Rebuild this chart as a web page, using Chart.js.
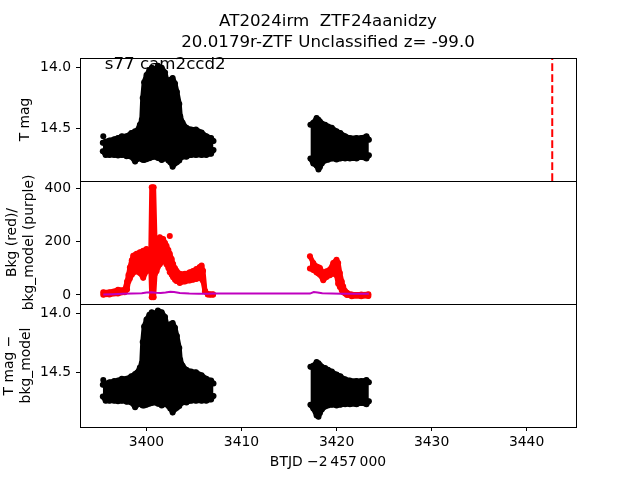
<!DOCTYPE html>
<html>
<head>
<meta charset="utf-8">
<script src="https://cdn.jsdelivr.net/npm/chart.js@4.4.1/dist/chart.umd.min.js"></script>
<style>
  html, body { margin: 0; padding: 0; background: #fff; }
  #wrap { position: relative; width: 640px; height: 480px; }
  canvas { position: absolute; left: 0; }
</style>
</head>
<body>
<div id="wrap">
  <canvas id="rawPanel" width="640" height="181" style="top:0"></canvas>
  <canvas id="subPanel" width="640" height="176" style="top:304px"></canvas>
  <canvas id="bkgPanel" width="640" height="143" style="top:171px"></canvas>
</div>
<script>
// ---- data ----
// light curve, first orbit (BTJD - 2457000) and upper / lower edge of the point cloud
const lcTime1 = [3395.4, 3395.7, 3396.1, 3396.6, 3397.0, 3397.4, 3397.9, 3398.4, 3398.8, 3399.0,
  3399.3, 3399.5, 3399.6, 3399.75, 3400.0, 3400.3, 3400.55, 3400.9, 3401.2, 3401.6,
  3401.95, 3402.15, 3402.3, 3402.5, 3402.75, 3403.0, 3403.2, 3403.45, 3403.55, 3403.8,
  3404.2, 3404.7, 3405.2, 3405.8, 3406.3, 3406.8, 3407.05];
const rawTop1 = [14.62, 14.61, 14.60, 14.59, 14.58, 14.565, 14.565, 14.54, 14.525, 14.52,
  14.47, 14.43, 14.25, 14.12, 14.06, 14.02, 14.0, 14.01, 13.985, 14.0,
  14.04, 14.11, 14.39, 14.10, 14.085, 14.13, 14.20, 14.30, 14.40, 14.455,
  14.495, 14.51, 14.51, 14.535, 14.565, 14.58, 14.605];
const rawBot1 = [14.69, 14.72, 14.72, 14.72, 14.725, 14.72, 14.73, 14.735, 14.775, 14.755,
  14.748, 14.755, 14.76, 14.762, 14.755, 14.748, 14.74, 14.735, 14.745, 14.762,
  14.75, 14.748, 14.765, 14.78, 14.817, 14.79, 14.78, 14.765, 14.745, 14.734,
  14.734, 14.72, 14.72, 14.72, 14.72, 14.71, 14.68];
const subTop1 = [14.60, 14.59, 14.58, 14.57, 14.565, 14.55, 14.55, 14.53, 14.51, 14.50,
  14.455, 14.42, 14.24, 14.11, 14.05, 14.01, 13.99, 14.0, 13.975, 13.99,
  14.03, 14.10, 14.38, 14.09, 14.08, 14.12, 14.19, 14.29, 14.39, 14.44,
  14.475, 14.49, 14.495, 14.52, 14.55, 14.565, 14.59];
const subBot1 = [14.70, 14.735, 14.735, 14.735, 14.74, 14.735, 14.745, 14.75, 14.79, 14.77,
  14.76, 14.77, 14.775, 14.775, 14.77, 14.76, 14.755, 14.75, 14.76, 14.775,
  14.765, 14.765, 14.78, 14.80, 14.835, 14.805, 14.795, 14.78, 14.76, 14.75,
  14.75, 14.735, 14.735, 14.735, 14.735, 14.725, 14.695];

// light curve, second orbit
const lcTime2 = [3417.25, 3417.55, 3417.9, 3418.1, 3418.25, 3418.45, 3418.8, 3419.1, 3419.5,
  3420.0, 3420.4, 3420.9, 3421.4, 3422.1, 3422.6, 3423.15, 3423.4];
const rawTop2 = [14.47, 14.455, 14.415, 14.43, 14.445, 14.46, 14.47, 14.485, 14.495,
  14.525, 14.54, 14.565, 14.58, 14.58, 14.58, 14.566, 14.594];
const rawBot2 = [14.75, 14.79, 14.81, 14.84, 14.82, 14.79, 14.765, 14.76, 14.75,
  14.758, 14.75, 14.75, 14.75, 14.75, 14.737, 14.75, 14.723];
const subTop2 = [14.45, 14.44, 14.41, 14.42, 14.435, 14.45, 14.46, 14.475, 14.49,
  14.515, 14.53, 14.555, 14.565, 14.57, 14.57, 14.56, 14.58];
const subBot2 = [14.77, 14.80, 14.86, 14.87, 14.84, 14.81, 14.785, 14.775, 14.77,
  14.775, 14.77, 14.765, 14.765, 14.765, 14.755, 14.765, 14.74];

// single stray points
const rawOutTime = [3395.45];
const rawOut = [14.565];
const subOutTime = [3395.45];
const subOut = [14.56];

// background flux (red), edges of the cloud
const bkgTime1 = [3395.45, 3396.1, 3397.0, 3397.7, 3397.95, 3398.1, 3398.25, 3398.45, 3398.6, 3398.8,
  3398.95, 3399.3, 3399.65, 3400.0, 3400.3, 3400.45, 3400.55, 3400.75, 3400.9, 3401.05,
  3401.4, 3401.75, 3401.95, 3402.1, 3402.3, 3402.45, 3402.65, 3402.8, 3403.0, 3403.15,
  3403.5, 3404.05, 3404.55, 3404.9, 3405.25, 3405.6, 3405.8, 3405.95, 3406.15, 3406.45,
  3406.7, 3407.0];
const bkgHigh1 = [10, 10, 19, 19, 50, 75, 103, 130, 147, 150,
  154, 160, 166, 172, 166, 168, 404, 404, 195, 202,
  216, 210, 195, 184, 168, 154, 135, 116, 100, 91,
  79, 79, 85, 90, 97, 105, 110, 91, 16, 3,
  3, 3];
const bkgLow1 = [1, 2, 5, 10, 20, 51, 62, 76, 83, 89,
  88, 82, 64, 89, 101, 100, -9, -9, 80, 89,
  115, 126, 126, 115, 101, 85, 76, 66, 57, 52,
  45, 50, 54, 57, 60, 64, 60, 52, 14, 2,
  1, 1];
const bkgTime2 = [3417.2, 3417.55, 3417.9, 3418.1, 3418.25, 3418.6, 3418.95, 3419.3, 3419.65, 3420.0,
  3420.17, 3420.35, 3420.55, 3420.7, 3420.9, 3421.1, 3421.6, 3422.6, 3423.35];
const bkgHigh2 = [145, 120, 107, 104, 101, 82, 89, 95, 120, 132,
  120, 82, 50, 32, 15, 8, 2, 2, 3];
const bkgLow2 = [99, 93, 84, 80, 76, 55, 67, 74, 80, 74,
  42, 30, 17, 10, 5, 0, -5, -5, -4];
const bkgOutTime = [3402.45];
const bkgOut = [221];

// background model (purple)
const modelTime = [3395.45, 3396.5, 3397.5, 3398.5, 3399.5, 3400.0, 3400.5, 3401.0, 3401.5, 3402.0,
  3402.5, 3402.9, 3403.5, 3404.5, 3405.5, 3406.5, 3407.05, 3417.2, 3417.6, 3418.0,
  3418.5, 3419.5, 3420.5, 3421.5, 3422.5, 3423.4];
const modelBkg = [2, 3, 4, 5, 6, 9, 10, 8, 7, 9,
  12, 11, 7, 5, 4, 4, 5, 5, 11, 9,
  6, 5, 4, 4, 4, 4];

// vertical marker
const markerTime = 3442.7;

// axes
const timeMin = 3393.0, timeMax = 3445.2;
const magMin = 13.92, magMax = 14.935;
const bkgMin = -34, bkgMax = 427;
const subMin = 13.92, subMax = 14.957;
const timeTicks = [3400, 3410, 3420, 3430, 3440];
const magTicks = [14.0, 14.5];
const bkgTicks = [0, 200, 400];

// ---- drawing ----
Chart.defaults.font.family = '"DejaVu Sans", sans-serif';
Chart.defaults.font.size = 13.9;
Chart.defaults.color = '#000';

const pts = (xs, ys) => xs.map((x, i) => ({ x: x, y: ys[i] }));

// upper and lower edge of a dense point cloud, filled in between
function cloud(times, hi, lo, color) {
  const style = {
    showLine: true, borderColor: color, backgroundColor: color, pointBackgroundColor: color,
    borderWidth: 5, pointRadius: 3, pointBorderWidth: 0, pointHoverRadius: 0,
    borderJoinStyle: 'round', borderCapStyle: 'round', tension: 0
  };
  return [
    Object.assign({ data: pts(times, hi), fill: false }, style),
    Object.assign({ data: pts(times, lo), fill: '-1' }, style)
  ];
}

function dots(times, vals, color) {
  return { data: pts(times, vals), pointRadius: 3, pointBorderWidth: 0,
    pointBackgroundColor: color, backgroundColor: color };
}

function xScale(show) {
  const s = {
    type: 'linear', min: timeMin, max: timeMax, display: show,
    afterBuildTicks: sc => { sc.ticks = timeTicks.map(v => ({ value: v })); },
    grid: { drawOnChartArea: false, tickLength: 4, color: '#000' },
    border: { display: false },
    ticks: { padding: 3, maxRotation: 0, callback: v => String(v) },
    title: { display: show, text: 'BTJD \u22122\u2009457\u2009000', padding: { top: 0, bottom: 9 } }
  };
  if (show) {
    s.afterFit = sc => { sc.height = 53; sc.paddingLeft = 0; sc.paddingRight = 0; };
  }
  return s;
}

function yScale(min, max, ticks, fmt, reverse, title, titlePad) {
  return {
    type: 'linear', min: min, max: max, reverse: reverse,
    afterBuildTicks: sc => { sc.ticks = ticks.map(v => ({ value: v })); },
    afterFit: sc => { sc.width = 80; sc.paddingTop = 0; sc.paddingBottom = 0; },
    grid: { drawOnChartArea: false, tickLength: 4, color: '#000' },
    border: { display: false },
    ticks: { padding: 5, callback: fmt },
    title: { display: true, text: title, padding: { top: titlePad, bottom: 0 } }
  };
}

const frame = {
  id: 'frame',
  afterDraw(chart) {
    const { ctx, chartArea: a } = chart;
    ctx.save();
    ctx.strokeStyle = '#000';
    ctx.lineWidth = 1;
    ctx.strokeRect(Math.round(a.left) + 0.5, Math.round(a.top) + 0.5,
      Math.round(a.right - a.left), Math.round(a.bottom - a.top));
    ctx.restore();
  }
};

const cornerLabel = {
  id: 'cornerLabel',
  afterDatasetsDraw(chart) {
    const { ctx, chartArea: a } = chart;
    ctx.save();
    ctx.font = '16.67px "DejaVu Sans"';
    ctx.fillStyle = '#000';
    ctx.textBaseline = 'middle';
    ctx.fillText('s77 cam2ccd2', a.left + 0.05 * (a.right - a.left), a.top + 0.05 * (a.bottom - a.top) + 0.4);
    ctx.restore();
  }
};

function baseOptions(scales, pad, extraPlugins) {
  return {
    responsive: false, animation: false, devicePixelRatio: 1,
    layout: { autoPadding: false, padding: { left: 0, right: 64, top: pad, bottom: pad } },
    scales: scales,
    plugins: Object.assign({ legend: { display: false }, tooltip: { enabled: false } }, extraPlugins || {}),
    events: []
  };
}

const fmtMag = v => Number(v).toFixed(1);
const fmtInt = v => String(v);

// top: T mag
new Chart(document.getElementById('rawPanel'), {
  type: 'scatter',
  data: {
    datasets: [
      ...cloud(lcTime1, rawTop1, rawBot1, '#000'),
      ...cloud(lcTime2, rawTop2, rawBot2, '#000'),
      dots(rawOutTime, rawOut, '#000'),
      { data: [{ x: markerTime, y: magMax }, { x: markerTime, y: magMin }], showLine: true,
        borderColor: '#ff0000', borderWidth: 2, borderDash: [7.7, 3.3], pointRadius: 0 }
    ]
  },
  options: baseOptions({
    x: xScale(false),
    y: yScale(magMin, magMax, magTicks, fmtMag, true, 'T mag', 17)
  }, 0, {
    title: {
      display: true, fullSize: false,
      text: ['AT2024irm  ZTF24aanidzy', '20.0179r-ZTF Unclassified z= -99.0'],
      font: { size: 16.67, weight: 'normal', lineHeight: 1.25 },
      color: '#000', padding: { top: 11, bottom: 5.3 }
    }
  }),
  plugins: [frame, cornerLabel]
});

// middle: background and background model (canvas overlaps its neighbours so the long label fits)
new Chart(document.getElementById('bkgPanel'), {
  type: 'scatter',
  data: {
    datasets: [
      { data: pts(modelTime, modelBkg), showLine: true, borderColor: '#bf00bf', borderWidth: 2,
        pointRadius: 0, fill: false },
      ...cloud(bkgTime1, bkgHigh1, bkgLow1, '#ff0000'),
      ...cloud(bkgTime2, bkgHigh2, bkgLow2, '#ff0000'),
      dots(bkgOutTime, bkgOut, '#ff0000')
    ]
  },
  options: baseOptions({
    x: xScale(false),
    y: yScale(bkgMin, bkgMax, bkgTicks, fmtInt, false, ['Bkg (red)/', 'bkg_model (purple)'], 4.5)
  }, 10),
  plugins: [frame]
});

// bottom: T mag - bkg_model
new Chart(document.getElementById('subPanel'), {
  type: 'scatter',
  data: {
    datasets: [
      ...cloud(lcTime1, subTop1, subBot1, '#000'),
      ...cloud(lcTime2, subTop2, subBot2, '#000'),
      dots(subOutTime, subOut, '#000')
    ]
  },
  options: baseOptions({
    x: xScale(true),
    y: yScale(subMin, subMax, magTicks, fmtMag, true, ['T mag \u2212', 'bkg_model'], 1.5)
  }, 0),
  plugins: [frame]
});
</script>
</body>
</html>
